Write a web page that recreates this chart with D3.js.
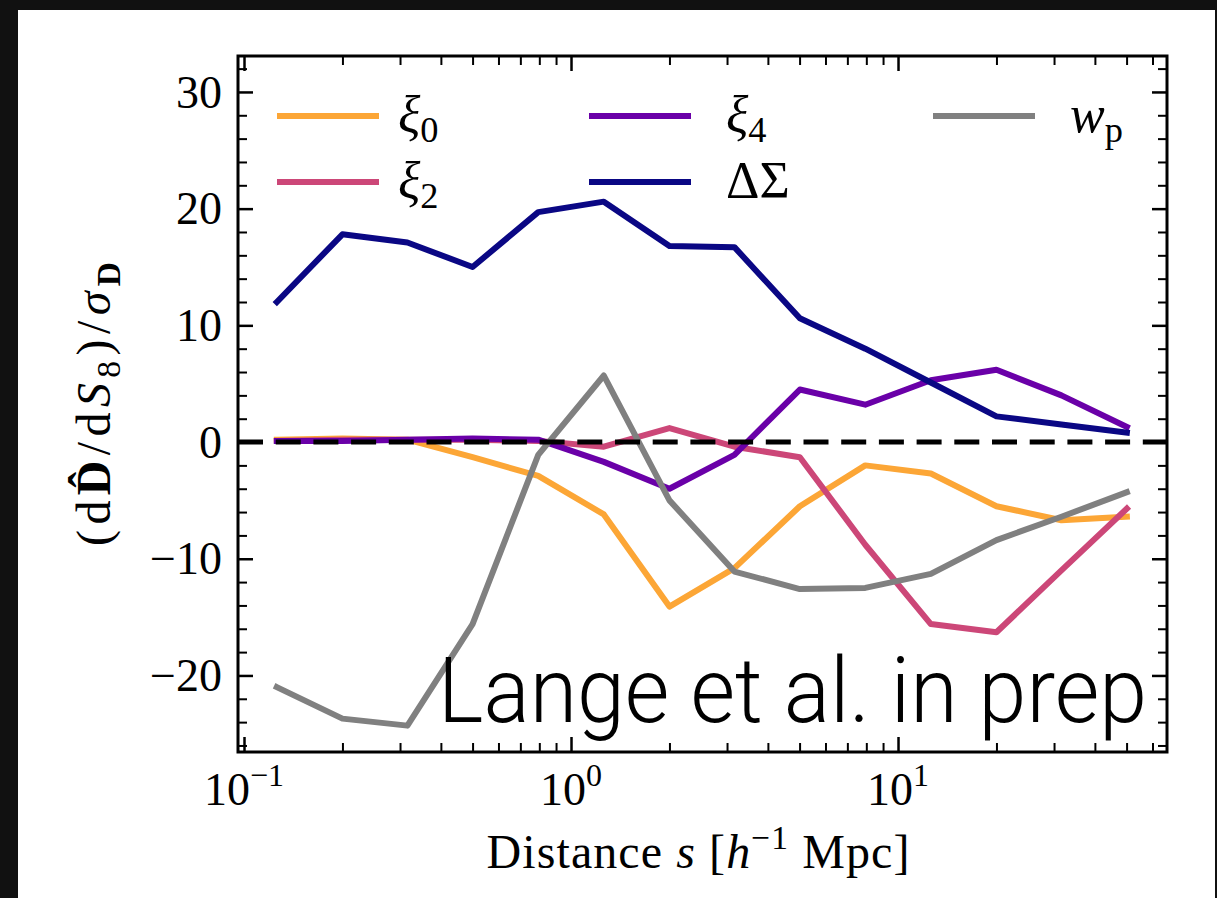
<!DOCTYPE html>
<html>
<head>
<meta charset="utf-8">
<script src="https://cdn.jsdelivr.net/npm/d3@7"></script>
<style>
  body { margin: 0; background: #111; }
</style>
</head>
<body>
<div id="chart"></div>
<script>
// separation s in h^-1 Mpc, log bins of 0.2 dex
const distance = [0.126, 0.2, 0.316, 0.5, 0.794, 1.26, 2.0, 3.16, 5.01, 7.94, 12.6, 20.0, 31.6, 50.1]

// derivative of each observable wrt S8, in units of its error
const xi0 = [0.2, 0.3, 0.2, -1.3, -2.9, -6.2, -14.1, -10.8, -5.5, -2.0, -2.7, -5.5, -6.7, -6.4]
const xi2 = [0.1, 0.2, 0.2, 0.2, 0.1, -0.4, 1.2, -0.4, -1.3, -8.8, -15.6, -16.3, -11.0, -5.7]
const xi4 = [0.1, 0.1, 0.2, 0.3, 0.2, -1.7, -4.0, -1.1, 4.5, 3.2, 5.3, 6.2, 4.0, 1.3]
const deltaSigma = [12.0, 17.8, 17.1, 15.0, 19.7, 20.6, 16.8, 16.7, 10.6, 8.0, 5.1, 2.2, 1.5, 0.8]
const wp = [-21.0, -23.7, -24.3, -15.6, -1.1, 5.7, -5.0, -11.1, -12.6, -12.5, -11.3, -8.4, -6.4, -4.3]

const seriesNames = ["xi0", "xi2", "xi4", "deltaSigma", "wp"]
const seriesColors = ["#fca636", "#cc4778", "#6a00a8", "#0a0784", "#808080"]

const xLimits = [0.09586, 66.46]
const yLimits = [-26.56, 33.08]
const xMajorTicks = [0.1, 1, 10]
const xMajorExp = ["−1", "0", "1"]
const yMajorTicks = [-20, -10, 0, 10, 20, 30]

var width = 1217,
    height = 898,
    pLeft = 238,
    pRight = 1167,
    pTop = 56,
    pBottom = 752,
    serif = "'Liberation Serif', 'DejaVu Serif', serif"

var x = d3.scaleLog()
  .domain(xLimits)
  .range([pLeft, pRight])

var y = d3.scaleLinear()
  .domain(yLimits)
  .range([pBottom, pTop])

var xMinorTicks = []
;[0.1, 1, 10].forEach(dec => {
  for (var k = 2; k <= 9; k++) {
    var v = dec * k
    if (v < xLimits[1]) xMinorTicks.push(v)
  }
})
var yMinorTicks = d3.range(-26, 34, 2).filter(v => v % 10 != 0)

var svg = d3.select("#chart").append("svg")
    .attr("width", width)
    .attr("height", height)

svg.append("rect")
    .attr("width", width)
    .attr("height", height)
    .attr("fill", "#111")

svg.append("rect")
    .attr("x", 18)
    .attr("y", 10)
    .attr("width", 1197)
    .attr("height", 888)
    .attr("fill", "#fff")

var data = {xi0: xi0, xi2: xi2, xi4: xi4, deltaSigma: deltaSigma, wp: wp}

var line = d3.line()
  .x(d => x(d[0]))
  .y(d => y(d[1]))

seriesNames.forEach((name, i) => {
  svg.append("path")
      .datum(d3.zip(distance, data[name]))
      .attr("class", "series series-" + name)
      .attr("fill", "none")
      .attr("stroke", seriesColors[i])
      .attr("stroke-width", 6)
      .attr("stroke-linejoin", "round")
      .attr("stroke-linecap", "square")
      .attr("d", line)
})

// zero line
svg.append("line")
    .attr("x1", pLeft)
    .attr("x2", pRight)
    .attr("y1", y(0))
    .attr("y2", y(0))
    .attr("stroke", "#000")
    .attr("stroke-width", 5)
    .attr("stroke-dasharray", "25,12.7")

// ticks on all four sides, pointing in
function ticks(axis, values, size, w) {
  return g => {
    g.call(axis.tickValues(values).tickSize(-size).tickFormat(""))
    g.select(".domain").remove()
    g.selectAll(".tick line").attr("stroke", "#000").attr("stroke-width", w)
  }
}

svg.append("g").attr("transform", `translate(0,${pBottom})`).call(ticks(d3.axisBottom(x), xMajorTicks, 15, 2.5))
svg.append("g").attr("transform", `translate(0,${pBottom})`).call(ticks(d3.axisBottom(x), xMinorTicks, 9, 2))
svg.append("g").attr("transform", `translate(0,${pTop})`).call(ticks(d3.axisTop(x), xMajorTicks, 15, 2.5))
svg.append("g").attr("transform", `translate(0,${pTop})`).call(ticks(d3.axisTop(x), xMinorTicks, 9, 2))
svg.append("g").attr("transform", `translate(${pLeft},0)`).call(ticks(d3.axisLeft(y), yMajorTicks, 15, 2.5))
svg.append("g").attr("transform", `translate(${pLeft},0)`).call(ticks(d3.axisLeft(y), yMinorTicks, 9, 2))
svg.append("g").attr("transform", `translate(${pRight},0)`).call(ticks(d3.axisRight(y), yMajorTicks, 15, 2.5))
svg.append("g").attr("transform", `translate(${pRight},0)`).call(ticks(d3.axisRight(y), yMinorTicks, 9, 2))

svg.append("rect")
    .attr("x", pLeft)
    .attr("y", pTop)
    .attr("width", pRight - pLeft)
    .attr("height", pBottom - pTop)
    .attr("fill", "none")
    .attr("stroke", "#000")
    .attr("stroke-width", 3)

// tick labels
svg.selectAll("text.ytick")
    .data(yMajorTicks)
  .enter().append("text")
    .attr("class", "ytick")
    .attr("x", pLeft - 16)
    .attr("y", d => y(d))
    .attr("dy", "0.34em")
    .attr("text-anchor", "end")
    .attr("font-family", serif)
    .attr("font-size", 46)
    .text(d => d < 0 ? "−" + Math.abs(d) : d)

var xt = svg.selectAll("text.xtick")
    .data(xMajorTicks)
  .enter().append("text")
    .attr("class", "xtick")
    .attr("x", d => x(d))
    .attr("y", 805)
    .attr("text-anchor", "middle")
    .attr("font-family", serif)
    .attr("font-size", 46)
xt.append("tspan").text("10")
xt.append("tspan")
    .attr("font-size", 32)
    .attr("baseline-shift", 19)
    .text((d, i) => xMajorExp[i])

// helper for math-ish labels
function mathText(sel, parts, size) {
  parts.forEach(p => {
    var s = sel.append("tspan").text(p.t)
    if (p.it) s.attr("font-style", "italic")
    if (p.bf) s.attr("font-weight", "bold")
    if (p.sub) s.attr("font-size", size * 0.7).attr("baseline-shift", -size * 0.2)
    if (p.sup) s.attr("font-size", size * 0.7).attr("baseline-shift", size * 0.4)
  })
}

var xlab = svg.append("text")
    .attr("x", 698)
    .attr("y", 868)
    .attr("text-anchor", "middle")
    .attr("font-family", serif)
    .attr("font-size", 48)
    .attr("textLength", 423)
    .attr("lengthAdjust", "spacing")
mathText(xlab, [
  {t: "Distance "}, {t: "s", it: true}, {t: " ["}, {t: "h", it: true},
  {t: "−1", sup: true}, {t: " Mpc]"}
], 48)

var ylab = svg.append("text")
    .attr("transform", `translate(110,${(pTop + pBottom) / 2}) rotate(-90)`)
    .attr("text-anchor", "middle")
    .attr("font-family", serif)
    .attr("font-size", 48)
    .attr("textLength", 284)
    .attr("lengthAdjust", "spacing")
mathText(ylab, [
  {t: "(d"}, {t: "D\u0302", bf: true}, {t: "/d"}, {t: "S", it: true}, {t: "8", sub: true},
  {t: ")/"}, {t: "σ", it: true}, {t: "D", bf: true, sub: true}
], 48)

// legend, column by column
const legendLabels = [
  [{t: "ξ", it: true}, {t: "0", sub: true}],
  [{t: "ξ", it: true}, {t: "2", sub: true}],
  [{t: "ξ", it: true}, {t: "4", sub: true}],
  [{t: "ΔΣ"}],
  [{t: "w", it: true}, {t: "p", sub: true}]
]
var legendCols = [[277, 398], [589, 726], [933, 1070]],
    legendRows = [116, 182]

seriesNames.forEach((name, i) => {
  var col = legendCols[Math.floor(i / 2)],
      ly = legendRows[i % 2]
  svg.append("line")
      .attr("x1", col[0])
      .attr("x2", col[0] + 102)
      .attr("y1", ly)
      .attr("y2", ly)
      .attr("stroke", seriesColors[i])
      .attr("stroke-width", 6)
  var t = svg.append("text")
      .attr("x", col[1])
      .attr("y", ly + 16)
      .attr("font-family", serif)
      .attr("font-size", 52)
  mathText(t, legendLabels[i], 52)
})

svg.append("text")
    .attr("x", 438)
    .attr("y", 722)
    .attr("font-family", "Roboto, 'Helvetica Neue', 'Liberation Sans', sans-serif")
    .attr("font-weight", 300)
    .attr("font-size", 90)
    .attr("textLength", 709)
    .attr("lengthAdjust", "spacingAndGlyphs")
    .attr("fill", "#000")
    .text("Lange et al. in prep")
</script>
</body>
</html>
